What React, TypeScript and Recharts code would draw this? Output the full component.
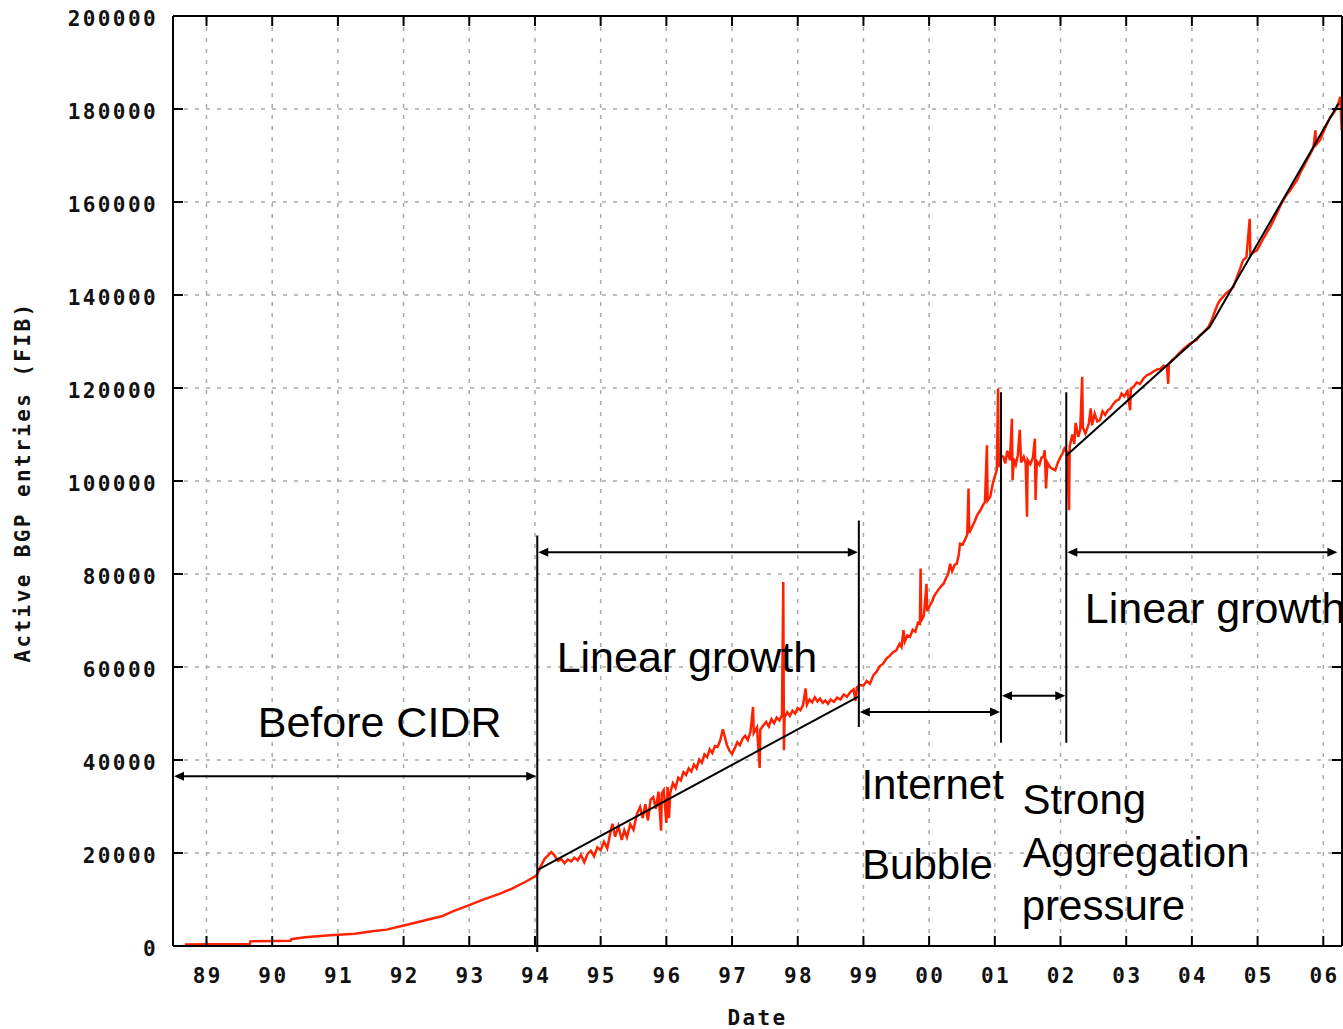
import { LineChart, Line, XAxis, YAxis, CartesianGrid, ReferenceLine, ReferenceDot } from 'recharts';

// tick values
const tickYears = [1989, 1990, 1991, 1992, 1993, 1994, 1995, 1996, 1997, 1998, 1999, 2000, 2001, 2002, 2003, 2004, 2005, 2006];
const entryTicks = [0, 20000, 40000, 60000, 80000, 100000, 120000, 140000, 160000, 180000, 200000];

// active BGP entries (fractional year, entries)
const bgpYears = [
    1988.67, 1989.0, 1989.3, 1989.66, 1989.67, 1990.0, 1990.28, 1990.29, 1990.5, 1990.88,
    1991.26, 1991.52, 1991.74, 1992.02, 1992.33, 1992.58, 1992.75, 1992.99, 1993.21, 1993.47,
    1993.65, 1993.85, 1994.03,
    1994.05, 1994.1, 1994.15, 1994.2, 1994.25, 1994.3, 1994.35, 1994.4, 1994.45, 1994.5,
    1994.55, 1994.6, 1994.65, 1994.7, 1994.75, 1994.8, 1994.85, 1994.9, 1994.95, 1995.0,
    1995.05, 1995.1, 1995.15, 1995.18, 1995.22, 1995.27, 1995.32, 1995.36, 1995.4, 1995.45,
    1995.5, 1995.55, 1995.6, 1995.64, 1995.68, 1995.72, 1995.76, 1995.8, 1995.84, 1995.88,
    1995.92, 1995.93, 1995.96, 1996.0, 1996.02, 1996.04, 1996.06, 1996.1, 1996.14, 1996.18, 1996.22,
    1996.26, 1996.3, 1996.34, 1996.38, 1996.42, 1996.46, 1996.5, 1996.54, 1996.58, 1996.62,
    1996.66, 1996.7, 1996.74, 1996.78, 1996.82, 1996.86, 1996.88, 1996.92, 1996.96, 1997.0,
    1997.04, 1997.08, 1997.12, 1997.16, 1997.2, 1997.24, 1997.28, 1997.32, 1997.33, 1997.38,
    1997.42, 1997.43, 1997.48, 1997.52, 1997.56, 1997.6, 1997.64, 1997.68, 1997.72, 1997.76,
    1997.78, 1997.79, 1997.8, 1997.84, 1997.88, 1997.92, 1997.96, 1998.0, 1998.04, 1998.08,
    1998.12, 1998.14, 1998.18, 1998.22, 1998.26, 1998.3, 1998.34, 1998.38, 1998.42, 1998.46,
    1998.5, 1998.55, 1998.6, 1998.65, 1998.7, 1998.75, 1998.8, 1998.85, 1998.88, 1998.9,
    1998.95,
    1999.0, 1999.05, 1999.1, 1999.15, 1999.2, 1999.25, 1999.3, 1999.35, 1999.4, 1999.45,
    1999.5, 1999.55, 1999.58, 1999.61, 1999.63, 1999.67, 1999.71, 1999.75, 1999.79, 1999.83,
    1999.86, 1999.87, 1999.88, 1999.92, 1999.96, 1999.97, 2000.01, 2000.05, 2000.07, 2000.11,
    2000.15, 2000.19, 2000.22, 2000.26, 2000.29, 2000.32, 2000.35, 2000.39, 2000.42, 2000.45,
    2000.47, 2000.51, 2000.55, 2000.58, 2000.6, 2000.61, 2000.65, 2000.69, 2000.73, 2000.78,
    2000.82, 2000.85, 2000.88, 2000.89, 2000.93, 2000.97, 2001.0, 2001.03, 2001.05, 2001.06,
    2001.09, 2001.13,
    2001.16, 2001.19, 2001.23, 2001.26, 2001.27, 2001.29, 2001.32, 2001.35, 2001.38, 2001.4,
    2001.44, 2001.47, 2001.49, 2001.5, 2001.54, 2001.58, 2001.61, 2001.62, 2001.64, 2001.68,
    2001.71, 2001.74, 2001.76, 2001.78, 2001.8, 2001.84, 2001.88, 2001.92, 2001.96, 2002.0,
    2002.03, 2002.06, 2002.1, 2002.13, 2002.14, 2002.18, 2002.21, 2002.23, 2002.27, 2002.3,
    2002.33, 2002.34, 2002.38, 2002.43, 2002.46, 2002.48, 2002.52, 2002.56, 2002.6, 2002.64,
    2002.68, 2002.72, 2002.76, 2002.8, 2002.85, 2002.89, 2002.93, 2002.97, 2003.02, 2003.06,
    2003.07, 2003.12, 2003.16, 2003.21, 2003.26, 2003.31, 2003.37, 2003.42, 2003.47, 2003.52,
    2003.57, 2003.62, 2003.64, 2003.65, 2003.7, 2003.75, 2003.8, 2003.85, 2003.9, 2003.95,
    2004.0, 2004.07, 2004.12, 2004.18, 2004.25, 2004.3, 2004.35, 2004.4, 2004.43, 2004.48,
    2004.53, 2004.58, 2004.63, 2004.68, 2004.73, 2004.78, 2004.83, 2004.88, 2004.89, 2004.94,
    2004.99, 2005.04, 2005.09, 2005.14, 2005.19, 2005.24, 2005.29, 2005.34, 2005.39, 2005.44,
    2005.5, 2005.55, 2005.6, 2005.65, 2005.7, 2005.75, 2005.8, 2005.85, 2005.88, 2005.89,
    2005.95, 2006.0, 2006.05, 2006.11, 2006.16, 2006.21, 2006.26, 2006.28,
];
const bgpEntries = [
    300, 350, 400, 450, 1000, 1050, 1100, 1450, 1870, 2300,
    2650, 3160, 3520, 4450, 5530, 6390, 7460, 8750, 9970, 11270,
    12340, 13760, 15200,
    16000, 17500, 18800, 19500, 20200, 19400, 18300, 18700, 17800, 18600,
    18200, 19000, 18400, 19600, 18000, 19800, 20500, 19300, 21200, 20600,
    22400, 21000, 24500, 26300, 23500, 25800, 22800, 24900, 23400, 26200,
    25000, 28300, 29900, 27500, 30500, 27000, 31500, 32000, 29500, 33200,
    24800, 32800, 33500, 26500, 34200, 27500, 33000, 35000, 34000, 36200, 35600,
    37400, 36800, 38200, 37500, 39000, 38200, 40100, 39400, 41200, 40600,
    42300, 41500, 43000, 42800, 44200, 46600, 45500, 43300, 42000, 41300,
    42500, 43800, 43200, 44600, 45200, 44300, 46000, 51400, 45800, 47000,
    38300, 46500, 47500, 48200, 47200, 48800, 47900, 49100, 48500, 49600,
    78300, 42100, 49200, 50300, 49500, 50600, 50000, 51200, 50700, 51800,
    55400, 51900, 53000, 52400, 53500, 52600, 53200, 52300, 52800, 52100,
    53000, 52500, 53400, 53000, 54100, 53600, 54600, 55200, 52700, 55600,
    56100,
    56000, 57000, 56400, 58200, 59000, 60200, 60700, 61800, 62400, 63200,
    63600, 65000, 64300, 67900, 65500, 66800, 66500, 68000, 67600, 69500,
    69300, 81200, 70000, 71000, 77900, 72000, 73200, 74200, 75100, 76000,
    76800, 77500, 77900, 79200, 80000, 82200, 80600, 82000, 82200, 84000,
    86500, 86300, 87500, 88500, 98400, 88800, 90000, 91200, 92600, 93700,
    94800, 95500, 107700, 95800, 96600, 99500, 101000, 102300, 119900, 103000,
    105500, 105200,
    103800, 106500, 104500, 113400, 100200, 104800, 103500, 105500, 111000, 104000,
    105200, 103800, 92300, 104500, 103600, 105000, 109100, 95900, 104200, 103500,
    105000, 105200, 106600, 98400, 104000, 103000, 102600, 102300, 104000, 105200,
    105900, 107000, 106200, 93700, 107500, 110000, 108000, 112500, 109500, 111000,
    122400, 111500, 110200, 112300, 115600, 112000, 114500, 112800, 113100, 115000,
    114200, 115200, 115600, 116500, 117300, 117500, 118800, 118200, 119300, 115200,
    119800, 120400, 121200, 120900, 122000, 122700, 123100, 123600, 124000, 124100,
    124800, 124500, 120900, 125200, 126000, 126600, 127400, 128100, 128700, 129300,
    129800, 130300, 131300, 132000, 133100, 134500, 136500, 138200, 138900, 139700,
    140500, 141000, 141700, 143600, 145500, 147500, 148100, 156400, 148600, 149200,
    149600, 150900, 152200, 153400, 154600, 156000, 157500, 159000, 160400, 161500,
    162600, 163700, 164700, 166300, 167600, 169000, 170300, 171700, 175400, 172300,
    173300, 175000, 176600, 178300, 179200, 180400, 182600, 175400,
];

// linear fits drawn over the data
const fitYears9499 = [1994.035, 1998.93];
const fitEntries9499 = [16300, 53700];
const fitYears0206 = [2002.09, 2004.27, 2006.23];
const fitEntries0206 = [105500, 133100, 181200];

// phase boundaries (vertical bars)
const phaseYears = [1994.035, 1998.93, 2001.094, 2002.088];
const phaseTops = [88300, 91500, 119100, 119100];
const phaseBottoms = [-1300, 47100, 43700, 43700];

// double-headed arrows
const arrowFrom = [1988.49, 1994.035, 1998.93, 2001.094, 2002.088];
const arrowTo = [1994.035, 1998.93, 2001.094, 2002.088, 2006.23];
const arrowLevels = [36500, 84700, 50300, 53800, 84700];

// annotation text, anchored at its left baseline
const noteTexts = ['Before CIDR', 'Linear growth', 'Internet', 'Bubble', 'Strong', 'Aggregation', 'pressure', 'Linear growth'];
const noteYears = [1989.78, 1994.33, 1998.97, 1998.98, 2001.42, 2001.43, 2001.41, 2002.37];
const noteLevels = [44880, 58920, 31700, 14490, 28470, 16990, 5530, 69550];

const monoFont = "'DejaVu Sans Mono', 'Liberation Mono', monospace";
const sansFont = "'Liberation Sans', Arial, sans-serif";

const bgpSeries = bgpYears.map((year, i) => ({ year, entries: bgpEntries[i] }));
const fitA = fitYears9499.map((year, i) => ({ year, entries: fitEntries9499[i] }));
const fitB = fitYears0206.map((year, i) => ({ year, entries: fitEntries0206[i] }));

const yearLabel = (y: number) => String(y % 100).padStart(2, '0');

function BottomTick(props: any) {
    const { x, y, payload } = props;
    return (
        <g>
            <line x1={x} y1={y} x2={x} y2={y - 10} stroke="#000" strokeWidth={2} />
            <text x={x + 1.2} y={y + 37} textAnchor="middle" fontFamily={monoFont} fontWeight="bold"
                fontSize={21} letterSpacing={2.4} fill="#111">
                {yearLabel(payload.value)}
            </text>
        </g>
    );
}

function TopTick(props: any) {
    const { x, y } = props;
    return <line x1={x} y1={y} x2={x} y2={y + 10} stroke="#000" strokeWidth={2} />;
}

function LeftTick(props: any) {
    const { x, y, payload } = props;
    return (
        <g>
            <line x1={x} y1={y} x2={x + 10} y2={y} stroke="#000" strokeWidth={2} />
            <text x={x - 15} y={y + 10} textAnchor="end" fontFamily={monoFont} fontWeight="bold"
                fontSize={21} letterSpacing={2.4} fill="#111">
                {payload.value}
            </text>
        </g>
    );
}

function RightTick(props: any) {
    const { x, y } = props;
    return <line x1={x} y1={y} x2={x - 10} y2={y} stroke="#000" strokeWidth={2} />;
}

function DoubleArrow(props: any) {
    const { x1, y1, x2 } = props;
    const left = Math.min(x1, x2) + 1;
    const right = Math.max(x1, x2) - 1;
    const y = y1;
    return (
        <g>
            <line x1={left + 4} y1={y} x2={right - 4} y2={y} stroke="#000" strokeWidth={2} />
            <polygon points={`${left},${y} ${left + 10},${y - 4.5} ${left + 10},${y + 4.5}`} fill="#000" />
            <polygon points={`${right},${y} ${right - 10},${y - 4.5} ${right - 10},${y + 4.5}`} fill="#000" />
        </g>
    );
}

export default function App() {
    return (
        <div style={{ position: 'absolute', left: 0, top: 0, width: 1343, height: 1029, background: '#fff' }}>
            <LineChart width={1343} height={1029} margin={{ top: 0, right: 0, bottom: 0, left: 0 }}>
                <CartesianGrid stroke="#aaaaaa" strokeWidth={1.5} strokeDasharray="4 7" />
                <XAxis
                    dataKey="year"
                    type="number"
                    domain={[1988.49, 2006.285]}
                    allowDataOverflow
                    ticks={tickYears}
                    interval={0}
                    height={83}
                    tickSize={0}
                    tickMargin={0}
                    tickLine={false}
                    axisLine={{ stroke: '#000', strokeWidth: 2 }}
                    tick={(p: any) => <BottomTick {...p} />}
                    label={() => (
                        <text x={757.5} y={1025} textAnchor="middle" fontFamily={monoFont} fontWeight="bold"
                            fontSize={21} letterSpacing={2.4} fill="#111">Date</text>
                    )}
                />
                <XAxis
                    xAxisId="top"
                    orientation="top"
                    dataKey="year"
                    type="number"
                    domain={[1988.49, 2006.285]}
                    allowDataOverflow
                    ticks={tickYears}
                    interval={0}
                    height={16}
                    tickSize={0}
                    tickMargin={0}
                    tickLine={false}
                    axisLine={{ stroke: '#000', strokeWidth: 2 }}
                    tick={(p: any) => <TopTick {...p} />}
                />
                <YAxis
                    type="number"
                    domain={[0, 200000]}
                    allowDataOverflow
                    ticks={entryTicks}
                    interval={0}
                    width={173}
                    tickSize={0}
                    tickMargin={0}
                    tickLine={false}
                    axisLine={{ stroke: '#000', strokeWidth: 2 }}
                    tick={(p: any) => <LeftTick {...p} />}
                    label={() => (
                        <text transform="translate(30, 482) rotate(-90)" textAnchor="middle" fontFamily={monoFont}
                            fontWeight="bold" fontSize={21} letterSpacing={2.4} fill="#111">
                            Active BGP entries (FIB)
                        </text>
                    )}
                />
                <YAxis
                    yAxisId="right"
                    orientation="right"
                    type="number"
                    domain={[0, 200000]}
                    allowDataOverflow
                    ticks={entryTicks}
                    interval={0}
                    width={1}
                    tickSize={0}
                    tickMargin={0}
                    tickLine={false}
                    axisLine={{ stroke: '#000', strokeWidth: 2 }}
                    tick={(p: any) => <RightTick {...p} />}
                />
                <Line
                    data={bgpSeries}
                    dataKey="entries"
                    type="linear"
                    stroke="#ff2200"
                    strokeWidth={2.5}
                    dot={false}
                    isAnimationActive={false}
                />
                <Line data={fitA} dataKey="entries" type="linear" stroke="#000" strokeWidth={2}
                    dot={false} isAnimationActive={false} />
                <Line data={fitB} dataKey="entries" type="linear" stroke="#000" strokeWidth={2}
                    dot={false} isAnimationActive={false} />
                {phaseYears.map((yr, i) => (
                    <ReferenceLine
                        key={`phase-${i}`}
                        segment={[{ x: yr, y: phaseTops[i] }, { x: yr, y: phaseBottoms[i] }]}
                        stroke="#000"
                        strokeWidth={2}
                        ifOverflow="visible"
                    />
                ))}
                {arrowFrom.map((from, i) => (
                    <ReferenceLine
                        key={`arrow-${i}`}
                        segment={[{ x: from, y: arrowLevels[i] }, { x: arrowTo[i], y: arrowLevels[i] }]}
                        ifOverflow="visible"
                        shape={(p: any) => <DoubleArrow {...p} />}
                    />
                ))}
                {noteTexts.map((t, i) => (
                    <ReferenceDot
                        key={`note-${i}`}
                        x={noteYears[i]}
                        y={noteLevels[i]}
                        r={0}
                        ifOverflow="visible"
                        shape={(p: any) => (
                            <text x={p.cx} y={p.cy} fontFamily={sansFont}
                                fontSize={t === 'Linear growth' || t === 'Before CIDR' ? 43 : 42} fill="#000">{t}</text>
                        )}
                    />
                ))}
            </LineChart>
        </div>
    );
}
